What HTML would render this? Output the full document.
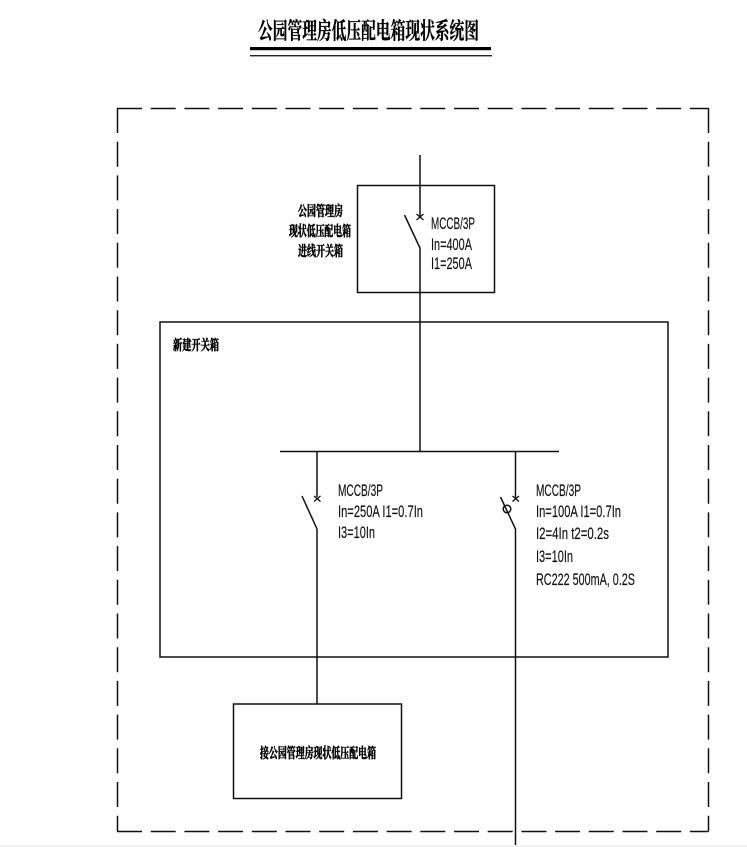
<!DOCTYPE html>
<html><head><meta charset="utf-8"><style>
html,body{margin:0;padding:0;background:#fff}
svg{display:block}
.l{font-family:"Liberation Sans",sans-serif;font-size:16.5px;fill:#111;stroke:#111;stroke-width:.15}
.c{font-family:"Liberation Serif","Noto Serif CJK SC",serif;font-weight:700;font-size:14px;fill:#000;stroke:#000;stroke-width:.55}
.t{font-family:"Liberation Serif","Noto Serif CJK SC",serif;font-weight:700;font-size:23px;fill:#000;stroke:#000;stroke-width:.3}
</style></head><body>
<svg width="747" height="847" viewBox="0 0 747 847" xmlns="http://www.w3.org/2000/svg">
<rect x="0" y="845" width="747" height="2" fill="#eef0f3"/>
<text class="t" x="258" y="38.500" textLength="221" lengthAdjust="spacingAndGlyphs">公园管理房低压配电箱现状系统图</text>
<rect x="250" y="47" width="241" height="3.200" fill="#000"/>
<rect x="250" y="55" width="242" height="1.400" fill="#222"/>
<g fill="none" stroke="#111" stroke-width="1.500">
<path d="M117 108.500H708.500" stroke-dasharray="25 8.700"/>
<path d="M117 831.500H708.500" stroke-dasharray="25 8.700"/>
<path d="M117.500 108V831.500" stroke-dasharray="25 8.700"/>
<path d="M708.500 108V831.500" stroke-dasharray="25 8.700"/>
<rect x="357.500" y="185.500" width="137" height="107"/>
<rect x="160" y="322" width="508" height="335"/>
<rect x="233.500" y="704" width="168" height="94.500"/>
<path d="M420 155V216M404.500 215L420 248V451"/>
<path d="M280 451.500H559"/>
<path d="M317 451V497M302 496L317 529V704"/>
<path d="M515.500 451V498M500.500 497L515.500 529V845"/>
<circle cx="507" cy="509" r="3.800"/>
</g>
<g fill="none" stroke="#111" stroke-width="1.300">
<path d="M416.500 214L423.500 220M423.500 214L416.500 220"/>
<path d="M314 496L320.500 501.500M320.500 496L314 501.500"/>
<path d="M512.500 496L519 501.500M519 496L512.500 501.500"/>
</g>
<text class="c" x="298" y="216" textLength="45" lengthAdjust="spacingAndGlyphs">公园管理房</text>
<text class="c" x="289" y="236" textLength="62" lengthAdjust="spacingAndGlyphs">现状低压配电箱</text>
<text class="c" x="298" y="256" textLength="45" lengthAdjust="spacingAndGlyphs">进线开关箱</text>
<text class="c" x="173" y="350" textLength="46" lengthAdjust="spacingAndGlyphs">新建开关箱</text>
<text class="c" x="260" y="758" textLength="116" lengthAdjust="spacingAndGlyphs">接公园管理房现状低压配电箱</text>
<text class="l" x="431" y="229" textLength="44" lengthAdjust="spacingAndGlyphs">MCCB/3P</text>
<text class="l" x="431" y="250" textLength="41" lengthAdjust="spacingAndGlyphs">In=400A</text>
<text class="l" x="431" y="269" textLength="41" lengthAdjust="spacingAndGlyphs">I1=250A</text>
<text class="l" x="338" y="496" textLength="45" lengthAdjust="spacingAndGlyphs">MCCB/3P</text>
<text class="l" x="338" y="517" textLength="85" lengthAdjust="spacingAndGlyphs">In=250A I1=0.7In</text>
<text class="l" x="338" y="538" textLength="37" lengthAdjust="spacingAndGlyphs">I3=10In</text>
<text class="l" x="536" y="496" textLength="45" lengthAdjust="spacingAndGlyphs">MCCB/3P</text>
<text class="l" x="536" y="517" textLength="85" lengthAdjust="spacingAndGlyphs">In=100A I1=0.7In</text>
<text class="l" x="536" y="539" textLength="73" lengthAdjust="spacingAndGlyphs">I2=4In t2=0.2s</text>
<text class="l" x="536" y="562" textLength="37" lengthAdjust="spacingAndGlyphs">I3=10In</text>
<text class="l" x="536" y="585" textLength="99" lengthAdjust="spacingAndGlyphs">RC222 500mA, 0.2S</text>
</svg>
</body></html>
